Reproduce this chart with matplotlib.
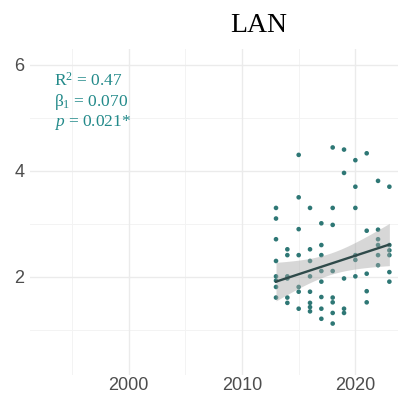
"""LAN panel: yearly values with a linear trend and its confidence band."""

import numpy as np
import matplotlib
matplotlib.use("Agg")
import matplotlib.pyplot as plt

# observed values per year
years_2013 = [3.30, 3.10, 2.71, 2.30, 2.01, 1.93, 1.81, 1.61]
years_2014 = [2.52, 2.41, 2.01, 1.97, 1.61, 1.51]
years_2015 = [4.30, 3.50, 2.90, 2.41, 1.81, 1.72, 1.40]
years_2016 = [3.30, 2.52, 2.30, 2.01, 1.72, 1.51, 1.43, 1.35]
years_2017 = [3.01, 2.60, 2.41, 2.11, 1.91, 1.62, 1.40, 1.21]
years_2018 = [4.44, 3.30, 2.98, 2.11, 1.61, 1.52, 1.32, 1.12]
years_2019 = [4.40, 3.96, 1.97, 1.40, 1.32]
years_2020 = [4.20, 3.70, 3.30, 2.41, 2.32, 2.01]
years_2021 = [4.33, 2.87, 2.06, 1.73, 1.52]
years_2022 = [3.81, 2.89, 2.71, 2.60, 2.41, 2.22]
years_2023 = [3.70, 2.60, 2.50, 2.41, 2.09, 1.91]

by_year = {
    2013: years_2013, 2014: years_2014, 2015: years_2015, 2016: years_2016,
    2017: years_2017, 2018: years_2018, 2019: years_2019, 2020: years_2020,
    2021: years_2021, 2022: years_2022, 2023: years_2023,
}

# trend statistics
r2 = 0.47
beta1 = 0.070
p_value = 0.021
fit_start = 1.91          # fitted value at the first year

x = np.concatenate([[yr] * len(v) for yr, v in by_year.items()]).astype(float)
y = np.concatenate([v for v in by_year.values()])

x0 = x.min()
xs = np.linspace(x.min(), x.max(), 100)
ys = fit_start + beta1 * (xs - x0)

# 95% band around the trend line
n = x.size
resid = y - (fit_start + beta1 * (x - x0))
s = np.sqrt(np.sum(resid ** 2) / (n - 2))
sxx = np.sum((x - x.mean()) ** 2)
half = 1.99 * s * np.sqrt(1.0 / n + (xs - x.mean()) ** 2 / sxx)

plt.rcParams["mathtext.fontset"] = "custom"
plt.rcParams["mathtext.rm"] = "Liberation Serif"
plt.rcParams["mathtext.it"] = "Liberation Serif:italic"

fig = plt.figure(figsize=(3.98, 3.94), dpi=100)
W, H = 398, 394
left, right, top, bottom = 30, 488, 48.8, 375
ax = fig.add_axes([left / W, 1 - bottom / H, (right - left) / W, (bottom - top) / H])

ax.set_xlim(1991.3, 2031.7)
ax.set_ylim(0.15, 6.3)

for xv in [1995, 2005, 2015, 2025]:
    ax.axvline(xv, color="#F3F3F3", lw=0.7, zorder=0)
for yv in [1, 3, 5]:
    ax.axhline(yv, color="#F3F3F3", lw=0.7, zorder=0)
for xv in [2000, 2010, 2020, 2030]:
    ax.axvline(xv, color="#EBEBEB", lw=1.0, zorder=0)
for yv in [2, 4, 6]:
    ax.axhline(yv, color="#EBEBEB", lw=1.0, zorder=0)

ax.scatter(x, y, s=11, color="#2E7775", edgecolors="none", zorder=2)
ax.fill_between(xs, ys - half, ys + half, color="#A8A8A8", alpha=0.45,
                lw=0, zorder=3)
ax.plot(xs, ys, color="#2F4A4A", lw=1.7, zorder=4)

ax.set_xticks([2000, 2010, 2020])
ax.set_yticks([2, 4, 6])
ax.tick_params(length=0, labelsize=13, labelcolor="#4D4D4D")
ax.tick_params(axis="x", pad=1.5)
ax.tick_params(axis="y", pad=4)
for lab in ax.get_xticklabels() + ax.get_yticklabels():
    lab.set_fontfamily("Liberation Sans")
for sp in ax.spines.values():
    sp.set_visible(False)

ax.set_title("LAN", fontfamily="Liberation Serif", fontsize=20, pad=12)

stat_lines = [
    "R$^{2}$ = %.2f" % r2,
    r"$\mathrm{\beta}_{1}$ = %.3f" % beta1,
    r"$p$ = %.3f*" % p_value,
]
for i, txt in enumerate(stat_lines):
    ax.text(24 / (right - left), (bottom - 86 - 20 * i) / (bottom - top), txt,
            transform=ax.transAxes, ha="left", va="baseline",
            fontfamily="Liberation Serif", fontsize=12.5, color="#238A8A")

fig.savefig("out.png", dpi=100)
